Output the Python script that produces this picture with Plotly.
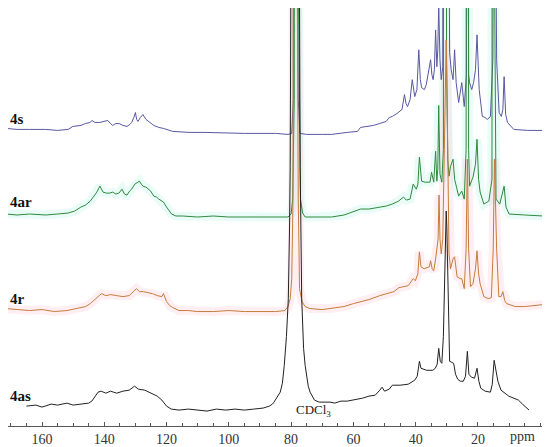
import plotly.graph_objects as go

# ---------------- data (ppm, intensity relative to each trace baseline) ----------------
ppm_4s = [171.5,168,164,158.8,155,151.6,150.1,148.5,147.5,146,144.5,144,143,141.4,140,138.9,138,137.3,136.3,135.3,134,132.7,131.8,131.2,130.5,130,129.6,129.2,128.4,127.6,126.6,125.5,124.1,122.5,121,118,115,112.8,108,100,95,90,85,81,79.8,79.3,79.1,78.5,77.9,77.7,77.2,75,70,67,62,58.7,57.7,55,53.6,51.5,49.5,48.5,47.5,46,44.4,43.6,43.1,42.6,41.8,41.1,40.3,39.6,39.0,38.5,38.1,37.2,36.6,
          35.2,34.8,34.4,34.0,33.6,33.2,32.9,32.6,32.2,31.8,31.3,30.9,30.4,29.7,29.1,28.6,28.0,27.5,27.0,26.2,25.2,24.4,23.7,23.3,23.0,22.7,22.0,21.4,20.8,20.3,19.9,19.6,18.6,17.7,17.0,16.0,15.2,14.8,14.0,
          13.2,12.5,12.0,11.6,11.1,10.5,8.5,4.0,-1.0]
int_4s = [1,0,0,0,-1,0,3,4,4,6,7,9,7,7,8,9,6,4,6,6,4,3,5,7,12,17,10,8,12,15,10,7,4,2,1,-2,-3,-3,-3,-4,-4,-4,-4,-5,-4,30,130,3000,130,30,-4,-5,-5,-5,-3,-2,2,3,4,6,8,12,13,16,20,35,26,23,30,50,33,40,80,50,42,40,45,
          70,55,50,60,100,63,80,125,70,50,63,430,3000,430,77,60,50,80,47,27,47,23,55,430,55,47,40,47,60,95,55,40,13,12,10,13,70,430,70,
          17,13,20,53,15,7,0,-1,-1]

ppm_4ar = [171.5,168,164,160,158.8,155,151.6,149.5,147.5,146,144.5,143.3,142.4,141.4,140.4,139.3,138.3,137.3,136.3,135.3,134.3,133.5,132.7,131.9,131.2,130.2,129.4,128.7,128.1,127.6,126.6,125.8,125.1,124.1,123.2,122.5,121.7,121,120,119,118.4,117,114.9,110,105,100,95,90,85,81,80,79.5,79.0,78.8,78.2,77.6,77.4,77.0,76.3,75.5,72,67,63,60,57.7,55,51.5,49.5,47.5,45.5,43.9,43,41.8,40.8,39.8,39.3,38.8,38.1,37,
           35.4,34.9,34.2,33.6,33.2,32.9,32.6,32.2,31.6,31.1,30.7,30.4,30.1,29.7,29.3,28.8,28.0,27.5,26.2,25.2,24.4,23.8,23.4,23.0,22.7,21.6,20.8,20.3,19.8,19.3,18.1,16.5,15.5,15.2,15.0,14.8,14.2,
           13.0,11.6,11.0,10.0,5.0,-1.0]
int_4ar = [0,-1,0,-1,-1,0,1,3,7,9,13,18,22,28,22,21,21,22,20,21,25,20,19,23,25,30,32,33,30,28,27,25,23,18,17,15,13,12,7,3,0,-2,-2,-3,-2,-3,-3,-3,-3,-3,0,15,115,215,3000,215,115,15,1,-3,-3,-3,-1,2,5,5,7,8,10,13,17,14,15,30,25,30,57,33,32,
           32,42,32,63,33,45,109,40,32,65,165,3000,165,55,38,48,55,35,18,23,15,65,3000,65,28,37,50,75,35,22,10,13,35,300,3000,300,15,
           10,28,7,0,-1,-2]

ppm_4r = [171.5,168,164,160,156,152,148.6,146,144.5,143,141.9,140.9,139.5,138,136,134,132,131,129.7,128.7,127.5,126,124.5,123,121.5,121,120,119,118,116,113,110,105,100,95,90,85,82,81,80.3,79.8,79.4,79.2,78.6,78.0,77.7,77.3,76.5,75.5,74,70,67,63,60,57.7,55,51.5,49,47,45.4,43.5,42.4,40.8,40.1,39.3,38.8,38.3,37.3,
          35.6,35.2,34.7,34.2,33.6,33.2,32.8,32.5,32.2,31.8,31.3,30.8,30.2,29.7,29.3,28.8,28.0,27.5,26.7,25.7,25.2,24.4,23.8,23.4,23.0,22.4,21.6,20.8,20.3,19.8,19.3,18.1,16.7,15.7,15.1,14.7,14.0,
          13.3,12.6,12.0,11.4,10.8,8.0,5.0,2.0,-1.0]
int_4r = [0,-1,-2,-1,-3,-2,0,2,5,9,12,15,13,14,13,12,13,16,20,17,17,16,15,13,12,15,7,3,1,-2,-2,-3,-3,-2,-3,-3,-3,-2,2,10,30,110,310,3000,310,110,20,7,2,0,-1,0,2,5,7,9,13,15,17,21,22,23,30,28,35,57,42,40,
          42,48,40,38,50,62,70,114,70,55,70,160,270,160,55,40,50,52,32,30,30,20,60,150,60,22,25,40,58,35,25,12,10,11,60,150,60,
          12,12,17,8,5,2,2,3,4]

ppm_4as = [165,162,160,157,155,152,150,147,145,144,143,142,141,139.5,138,136,134,132,130.3,129,127,125,123,121.5,120,118.5,116,113,110,107,104,101,98,95,92,89,87,86,85.5,84.5,83.5,82.8,82.2,81.5,80.9,80.5,80.3,80.1,78.7,77.3,77.1,76.6,76.0,75.5,74.5,73.9,72.5,71,69,67.5,66,64,62,60,57,55,53,51.5,50.8,50,48.5,47.5,45,42.4,41,40.3,39.5,38.8,38.3,37.5,36.5,
           34.5,33.7,33.1,32.6,32.1,31.6,31.1,30.7,30.4,30.2,30.0,29.7,29.3,29.1,28.4,27.8,27.2,26.5,25.7,24.7,24.0,23.4,22.9,22.1,21.1,20.3,19.7,19.1,17.7,16.0,15.4,14.8,
           13.6,12.6,10.1,8.6,7.0,5.7,3.6]
int_4as = [0,1,-1,2,1,3,1,2,3,5,9,14,15,13,15,13,15,16,20,17,16,13,10,6,0,-3,-4,-3,-4,-5,-3,-4,-3,-4,-3,-2,0,2,4,9,14,23,41,70,108,180,241,408,3000,408,241,108,58,41,20,14,6,4,4,4,3,5,5,6,8,10,11,16,19,15,17,21,21,22,25,26,30,45,38,37,36,
           36,38,42,58,45,43,70,130,180,196,180,130,60,45,44,43,32,27,25,25,30,55,32,29,28,38,25,18,15,14,22,46,
           25,16,10,8,6,2,-4]

labels = ["4s", "4ar", "4r", "4as"]
tick_vals = [160, 140, 120, 100, 80, 60, 40, 20]
tick_text = ["160", "140", "120", "100", "80", "60", "40", "20"]

# ---------------- styling / layout ----------------
offsets = {"4s": 298, "4ar": 213, "4r": 118, "4as": 20}
colors = {"4s": "#5858a2", "4ar": "#2f8a3c", "4r": "#c47d3a", "4as": "#222222"}
halo = {"4ar": "rgba(150,240,220,0.20)", "4r": "rgba(255,180,200,0.22)"}
series = {"4s": (ppm_4s, int_4s), "4ar": (ppm_4ar, int_4ar),
          "4r": (ppm_4r, int_4r), "4as": (ppm_4as, int_4as)}
label_y = {"4s": 308, "4ar": 225, "4r": 128, "4as": 30}

fig = go.Figure()
for name in labels:
    xs, ys = series[name]
    yy = [v + offsets[name] for v in ys]
    if name in halo:
        fig.add_trace(go.Scatter(x=xs, y=yy, mode="lines",
                                 line=dict(color=halo[name], width=9),
                                 hoverinfo="skip", showlegend=False))
for name in labels:
    xs, ys = series[name]
    yy = [v + offsets[name] for v in ys]
    fig.add_trace(go.Scatter(x=xs, y=yy, mode="lines", name=name,
                             line=dict(color=colors[name], width=1),
                             showlegend=False))

serif = "Liberation Serif, Times New Roman, serif"
for name in labels:
    fig.add_annotation(x=0, xref="paper", xanchor="left", y=label_y[name], yref="y",
                       text="<b>%s</b>" % name, showarrow=False,
                       font=dict(family=serif, size=15, color="#111"))
fig.add_annotation(x=72.7, y=16, xref="x", yref="y", text="CDCl<sub>3</sub>",
                   showarrow=False, font=dict(family=serif, size=13, color="#222"))
fig.add_annotation(x=0.985, xref="paper", xanchor="right", y=-0.024, yref="paper",
                   yanchor="middle", text="ppm", showarrow=False,
                   font=dict(family=serif, size=14, color="#333"))

# the page body adds an 8px margin, so the figure is sized to fit the 550x447 window
fig.update_layout(
    width=542, height=439,
    margin=dict(l=0, r=5, t=0, b=19),
    paper_bgcolor="white", plot_bgcolor="white",
    xaxis=dict(range=[170.92, -1.53], showgrid=False, zeroline=False,
               showline=True, linecolor="#555", linewidth=1,
               tickmode="array", tickvals=tick_vals, ticktext=tick_text,
               ticks="inside", ticklen=4, tickcolor="#555",
               minor=dict(dtick=5, ticks="inside", ticklen=3, tickcolor="#555"),
               tickfont=dict(family=serif, size=14, color="#333")),
    yaxis=dict(range=[0, 420], visible=False, showgrid=False, zeroline=False),
)
fig.write_html("out.html")
